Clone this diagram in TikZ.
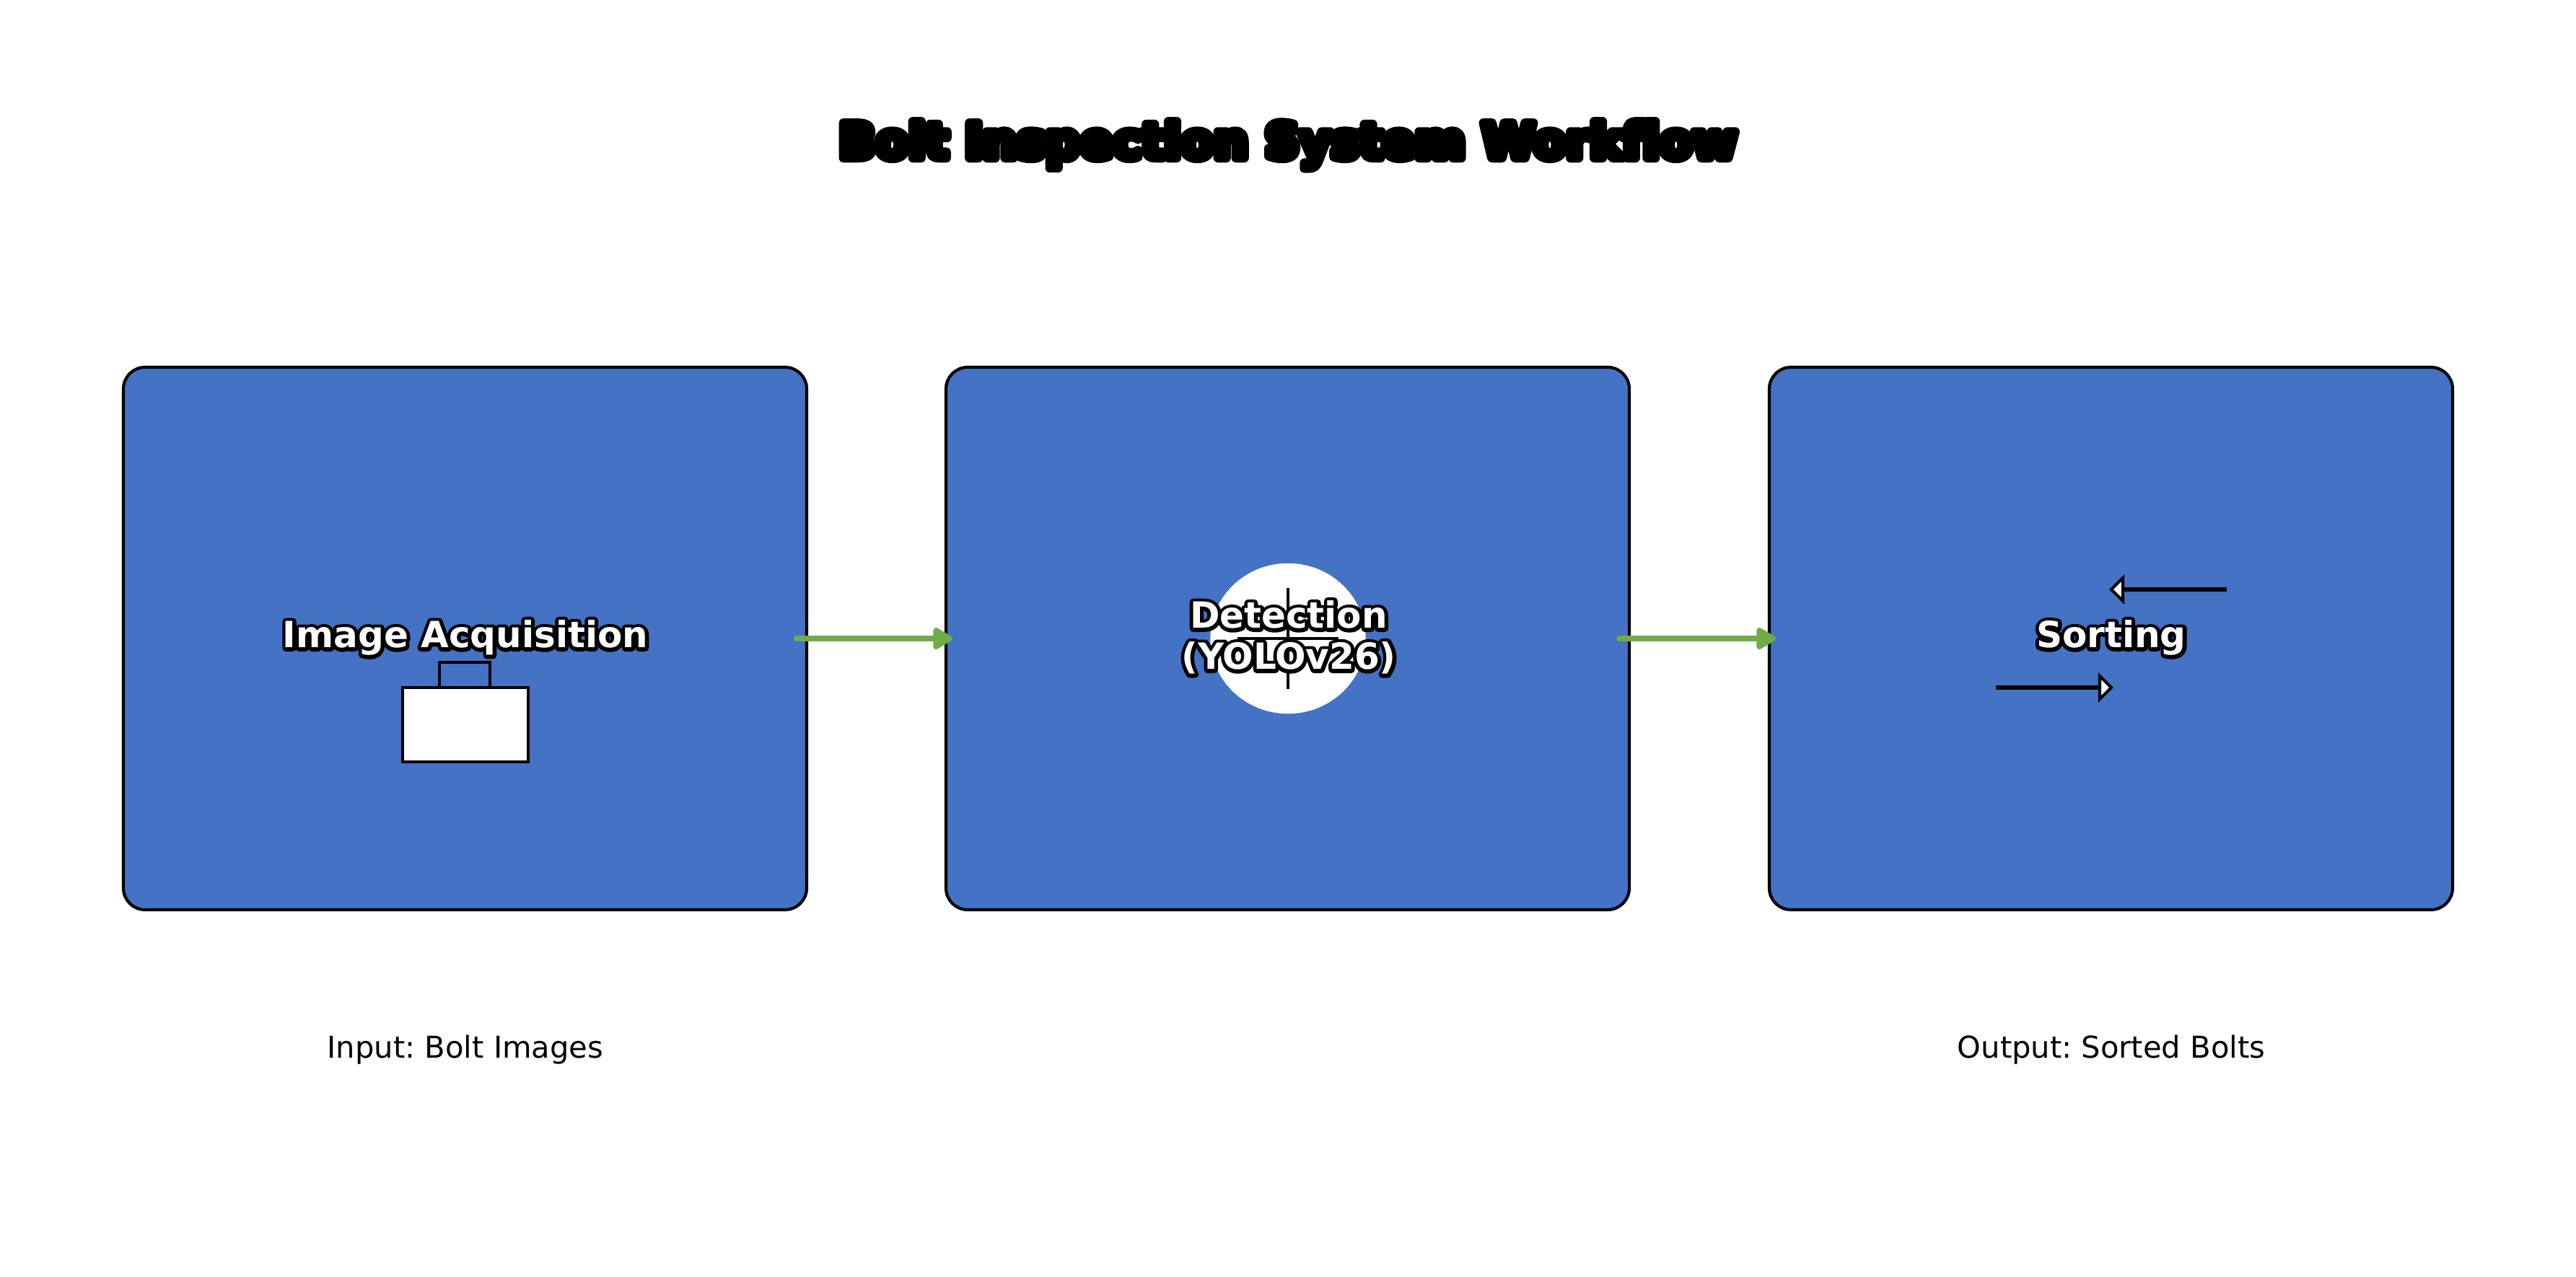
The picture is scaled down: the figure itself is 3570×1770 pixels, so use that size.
\documentclass[tikz,border=0pt]{standalone}
\usepackage{fontspec}
\usetikzlibrary{arrows.meta,shapes.geometric}
\setmainfont[Ligatures=NoCommon]{DejaVu Sans}
\newfontfamily\labelface[Ligatures=NoCommon]{DejaVu Sans Bold}
\newfontfamily\labelhalo[FakeBold=20,Ligatures=NoCommon]{DejaVu Sans Bold}
\newfontfamily\titlehalo[FakeBold=18.75,Ligatures=NoCommon]{DejaVu Sans Bold}
\newcommand{\roundstroke}{\special{pdf:code 1 j 1 J}}
\newcommand{\halotext}[1]{\leavevmode\roundstroke\rlap{\color{black}\labelhalo #1}{\color{white}\labelface #1}}
\definecolor{boxblue}{HTML}{4472C4}
\definecolor{flowgreen}{HTML}{70AD47}
\tikzset{
  stagebox/.style={draw=black,fill=boxblue,line width=1pt,rounded corners=7.2pt,minimum width=227.28pt,minimum height=180.48pt,inner sep=0pt,outer sep=0pt},
  stagetext/.style={anchor=base,inner sep=0pt,font=\fontsize{12pt}{14pt}\selectfont},
  notetext/.style={anchor=base,inner sep=0pt,font=\fontsize{10pt}{12pt}\selectfont\frenchspacing,text=black},
  flowarrow/.style={draw=flowgreen,line width=2pt,line cap=round,-{Triangle[length=7.4pt,width=8pt,round]}},
  iconline/.style={draw=black,line width=1pt},
  sortline/.style={draw=black,line width=1.3pt},
  iconfill/.style={draw=black,fill=white,line width=1pt,miter limit=10}
}
\begin{document}
\begin{tikzpicture}[x=0.24pt,y=-0.24pt]
\useasboundingbox[fill=white] (0,0) rectangle (3570,1770);
\node[anchor=base,inner sep=0pt,font=\fontsize{16pt}{19pt}\selectfont\frenchspacing\titlehalo,text=black] (title) at (1785,219) {\roundstroke Bolt Inspection System Workflow};
\node[stagebox] (box1) at (644.5,885) {};
\node[stagebox] (box2) at (1784.5,885) {};
\node[stagebox] (box3) at (2925.5,885) {};
% camera icon
\draw[iconline] (609,953) -- (609,918) -- (679,918) -- (679,953);
\node[iconfill,minimum width=41.76pt,minimum height=24.72pt,inner sep=0pt,outer sep=0pt] (camera) at (645,1004.5) {};
% target icon
\node[ellipse,fill=white,minimum width=51.7pt,minimum height=50.05pt,inner sep=0pt,outer sep=0pt] (target) at (1785,885) {};
\draw[iconline] (target.center) ++(0,-70) coordinate (tn) -- ++(0,140);
\draw[iconline] (target.center) ++(-70,0) coordinate (tw) -- ++(140,0);
% sort arrows
\coordinate (s1a) at (3086,817);
\coordinate (s1b) at (2942,817);
\coordinate (s2a) at (2766,953);
\coordinate (s2b) at (2910,953);
\draw[sortline] (s1a) -- (s1b);
\draw[sortline] (s2a) -- (s2b);
\draw[iconfill] (2942,801) -- (2926,817) -- (2942,833) -- cycle;
\draw[iconfill] (2910,937) -- (2926,953) -- (2910,969) -- cycle;
% labels
\node[stagetext] (lab1) at (645,898) {\halotext{Image Acquisition}};
\node[stagetext] (lab2a) at (1786,871) {\halotext{Detection}};
\node[stagetext] (lab2b) at (1786,928) {\halotext{(YOLOv26)}};
\node[stagetext] (lab3) at (2926,898) {\halotext{Sorting}};
% flow arrows
\draw[flowarrow] ([xshift=-3.3pt]box1.east) -- ([xshift=2.16pt]box2.west);
\draw[flowarrow] ([xshift=-3.3pt]box2.east) -- ([xshift=2.16pt]box3.west);
\node[notetext] (input) at (645,1466) {Input: Bolt Images};
\node[notetext] (output) at (2926,1466) {Output: Sorted Bolts};
\end{tikzpicture}
\end{document}
